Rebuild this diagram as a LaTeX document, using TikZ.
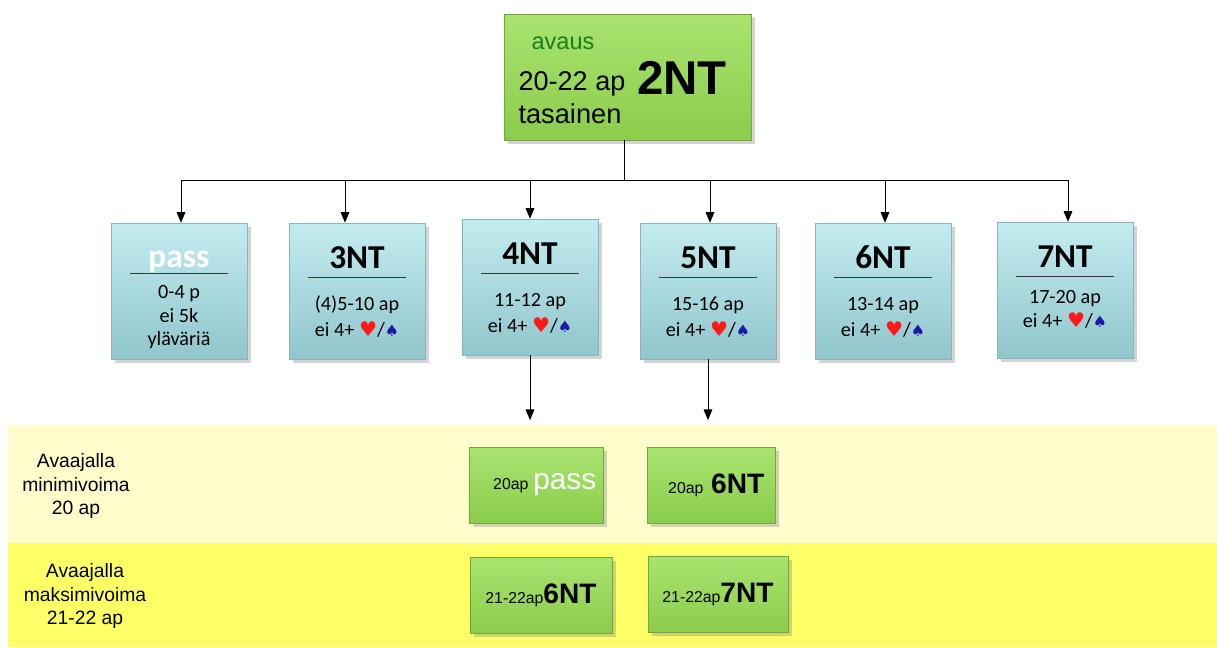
\documentclass[tikz,border=0pt]{standalone}
\usepackage{fontspec}
\setmainfont{Liberation Sans}
\newfontfamily\calib{Carlito}
\newfontfamily\symfnt{DejaVu Sans}
\usetikzlibrary{arrows.meta, shadows}

\definecolor{boxgreenA}{HTML}{A9E46F}
\definecolor{boxgreenB}{HTML}{8ACC4C}
\definecolor{greenline}{HTML}{74A640}
\definecolor{boxblueA}{HTML}{C3ECF0}
\definecolor{boxblueB}{HTML}{90C6CC}
\definecolor{blueline}{HTML}{86B5BB}
\definecolor{bandlight}{HTML}{FFFDCB}
\definecolor{bandyellow}{HTML}{FFFF66}
\definecolor{avausgreen}{HTML}{1A801A}
\definecolor{suitred}{HTML}{FF1A1A}
\definecolor{suitblue}{HTML}{1A1AA8}
\definecolor{rulegray}{HTML}{3A3A3A}

\newcommand{\hrt}{{\symfnt\color{suitred}♥}}
\newcommand{\spd}{{\symfnt\color{suitblue}\small♠}}
\newcommand{\bidhead}[2][13.5pt]{\raisebox{0pt}[#1][0pt]{\fontsize{19}{20}\selectfont\bfseries #2}}
\newcommand{\bidrule}{{\color{rulegray}\rule{1.96cm}{0.8pt}}}

\begin{document}
\begin{tikzpicture}[x=0.02cm, y=-0.02cm, >={Triangle[length=6pt, width=5pt]},
    openbox/.style={draw=greenline, top color=boxgreenA, bottom color=boxgreenB,
        minimum width=4.94cm, minimum height=2.52cm,
        drop shadow={opacity=0.35, shadow xshift=2pt, shadow yshift=-2pt}},
    bidbox/.style={draw=blueline, top color=boxblueA, bottom color=boxblueB,
        minimum width=2.72cm, minimum height=2.72cm, align=center,
        font=\calib\fontsize{11.5}{13.6}\selectfont,
        drop shadow={opacity=0.35, shadow xshift=2pt, shadow yshift=-2pt}},
    rebid/.style={draw=greenline, top color=boxgreenA, bottom color=boxgreenB,
        minimum height=1.52cm,
        drop shadow={opacity=0.35, shadow xshift=2pt, shadow yshift=-2pt}},
    bandtext/.style={align=center, font=\fontsize{11}{13.5}\selectfont}]

    \useasboundingbox (0,0) rectangle (1217,647);

    % Bands
    \fill[bandlight] (8,425) rectangle (1217,543);
    \fill[bandyellow] (8,543) rectangle (1217,647);

    % Opening
    \node (NT2) [openbox] at (628,77) {};
    \node (avaus) [text=avausgreen, font=\fontsize{13.4}{14}\selectfont] at (563,43) {avaus};
    \node (range) [font=\fontsize{15.4}{16}\selectfont] at (572,84) {20-22 ap};
    \node (call) [font=\fontsize{27}{28}\selectfont\bfseries] at (682,78) {2NT};
    \node (shape) [font=\fontsize{15.5}{16}\selectfont] at (570,114) {tasainen};

    % Responses
    \node (pass) [bidbox] at (179,291) {\bidhead[20pt]{\color{white}pass}\\[-10pt] \bidrule\\[0pt] 0-4 p\\ ei 5k\\ yläväriä};
    \node (NT3) [bidbox] at (357,291) {\bidhead{3NT}\\[-8pt] \bidrule\\[4.8pt] (4)5-10 ap\\[1pt] ei 4+ \hrt/\spd};
    \node (NT4) [bidbox] at (530,287) {\bidhead{4NT}\\[-8pt] \bidrule\\[4.8pt] 11-12 ap\\[1pt] ei 4+ \hrt/\spd};
    \node (NT5) [bidbox] at (708,291) {\bidhead{5NT}\\[-8pt] \bidrule\\[4.8pt] 15-16 ap\\[1pt] ei 4+ \hrt/\spd};
    \node (NT6) [bidbox] at (883,291) {\bidhead{6NT}\\[-8pt] \bidrule\\[4.8pt] 13-14 ap\\[1pt] ei 4+ \hrt/\spd};
    \node (NT7) [bidbox] at (1065,290) {\bidhead[9pt]{7NT}\\[-8pt] \bidrule\\[1.2pt] 17-20 ap\\[0pt] ei 4+ \hrt/\spd};

    % Opener's rebids
    \node (minText) [bandtext] at (76,486) {Avaajalla\\ minimivoima\\ 20 ap};
    \node (maxText) [bandtext] at (85,596) {Avaajalla\\ maksimivoima\\ 21-22 ap};
    \node (minPass) [rebid, minimum width=2.68cm] at (536,485) {\hspace*{10pt}{\fontsize{9}{9}\selectfont 20ap} {\color{white}\fontsize{17}{17}\selectfont pass}};
    \node (min6NT) [rebid, minimum width=2.56cm] at (711,485) {\hspace*{6pt}{\fontsize{9}{9}\selectfont 20ap}\, {\fontsize{16}{16}\selectfont\bfseries 6NT}};
    \node (max6NT) [rebid, minimum width=2.84cm] at (541,595) {{\fontsize{9}{9}\selectfont 21-22ap}{\fontsize{16}{16}\selectfont\bfseries 6NT}};
    \node (max7NT) [rebid, minimum width=2.80cm] at (718,594) {{\fontsize{9}{9}\selectfont 21-22ap}{\fontsize{16}{16}\selectfont\bfseries 7NT}};

    % Arrows
    \coordinate (bus) at (624,180);
    \coordinate (bandtop) at (0,420);
    \draw (bus |- NT2.south) -- (bus);
    \draw ([xshift=0.04cm]bus -| pass.north) -- ([xshift=0.06cm]bus -| NT7.north);
    \foreach \n/\dx in {pass/0.04, NT3/-0.24, NT4/0, NT5/0.04, NT6/0.04, NT7/0.06}
        \draw[->] ([xshift=\dx cm]bus -| \n.north) -- ([xshift=\dx cm]\n.north);
    \draw[->] (NT4.south) -- (NT4.south |- bandtop);
    \draw[->] (NT5.south) -- (NT5.south |- bandtop);

\end{tikzpicture}
\end{document}
